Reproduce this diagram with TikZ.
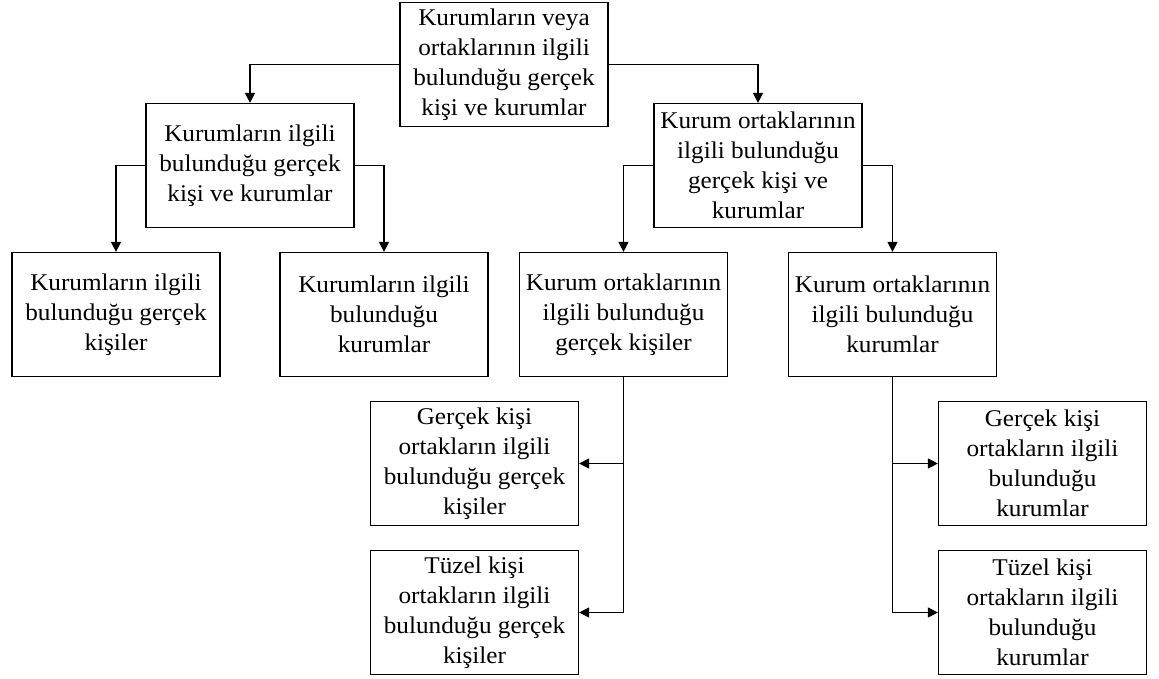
\documentclass[tikz,border=0pt]{standalone}
\usepackage{fontspec}
\setmainfont{Liberation Serif}[FakeStretch=1.05]
\usetikzlibrary{arrows.meta}
\begin{document}
\begin{tikzpicture}[x=1pt,y=-1pt,
  box/.style={draw, line width=1.2pt, minimum width=208pt, minimum height=124pt, inner sep=0pt, align=center, font=\fontsize{24}{30}\selectfont},
  arr/.style={line width=1.2pt, -{Triangle[length=10pt,width=10pt]}}]
\useasboundingbox (0,0) rectangle (1159,679);
\node[box] (top) at (504,64.5) {Kurumların veya\\ortaklarının ilgili\\bulunduğu gerçek\\kişi ve kurumlar};
\node[box] (L1) at (250,165.5) {Kurumların ilgili\\bulunduğu gerçek\\kişi ve kurumlar};
\node[box] (R1) at (758,165.5) {Kurum ortaklarının\\ilgili bulunduğu\\gerçek kişi ve\\kurumlar};
\node[box] (A) at (116,314.5) {Kurumların ilgili\\bulunduğu gerçek\\kişiler};
\node[box] (B) at (384,314.5) {Kurumların ilgili\\bulunduğu\\kurumlar};
\node[box] (C) at (623.5,314.5) {Kurum ortaklarının\\ilgili bulunduğu\\gerçek kişiler};
\node[box] (D) at (892.5,314.5) {Kurum ortaklarının\\ilgili bulunduğu\\kurumlar};
\node[box] (E) at (474.5,463.5) {Gerçek kişi\\ortakların ilgili\\bulunduğu gerçek\\kişiler};
\node[box] (F) at (474.5,612.5) {Tüzel kişi\\ortakların ilgili\\bulunduğu gerçek\\kişiler};
\node[box] (G) at (1042.5,463.5) {Gerçek kişi\\ortakların ilgili\\bulunduğu\\kurumlar};
\node[box] (H) at (1042.5,612.5) {Tüzel kişi\\ortakların ilgili\\bulunduğu\\kurumlar};
\draw[arr] (top.west) -| (L1.north);
\draw[arr] (top.east) -| (R1.north);
\draw[arr] (L1.west) -| (A.north);
\draw[arr] (L1.east) -| (B.north);
\draw[arr] (R1.west) -| (C.north);
\draw[arr] (R1.east) -| (D.north);
\draw[arr] (C.south) |- (F.east);
\draw[arr] (C.south |- E.east) -- (E.east);
\draw[arr] (D.south) |- (H.west);
\draw[arr] (D.south |- G.west) -- (G.west);
\end{tikzpicture}
\end{document}
